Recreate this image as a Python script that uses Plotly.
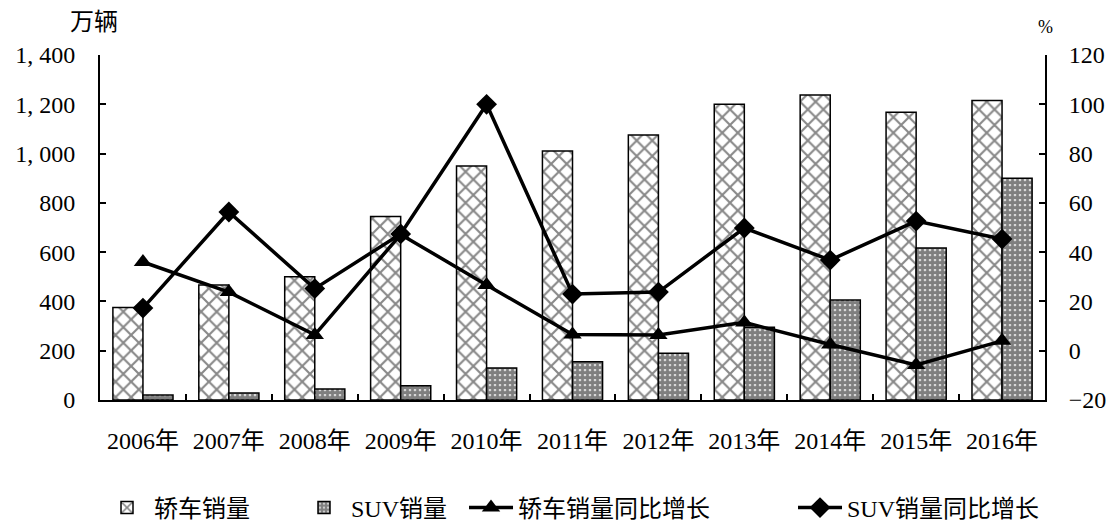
import plotly.graph_objects as go

years = ["2006年", "2007年", "2008年", "2009年", "2010年", "2011年",
         "2012年", "2013年", "2014年", "2015年", "2016年"]
sedan_sales = [375, 467, 500, 745, 950, 1010, 1075, 1200, 1238, 1168, 1215]
suv_sales = [20, 28, 45, 58, 130, 155, 190, 295, 406, 617, 900]
sedan_growth = [36.0, 23.8, 6.4, 47.2, 26.7, 6.6, 6.4, 11.5, 2.5, -5.8, 4.0]
suv_growth = [17.3, 56.3, 25.2, 47.4, 100.0, 23.0, 23.8, 49.8, 36.8, 52.6, 45.3]

left_ticks = [0, 200, 400, 600, 800, 1000, 1200, 1400]
left_ticktext = ["0", "200", "400", "600", "800", "1, 000", "1, 200", "1, 400"]
right_ticks = [-20, 0, 20, 40, 60, 80, 100, 120]
right_ticktext = ["−20", "0", "20", "40", "60", "80", "100", "120"]

NB = "\u00a0"
legend_names = ["轿车销量" + NB * 7, "SUV销量" + NB * 2,
                "轿车销量同比增长" + NB * 13, "SUV销量同比增长"]

FONT = "Liberation Serif, Noto Sans CJK SC, serif"
fig = go.Figure()

fig.add_trace(go.Bar(
    x=years, y=sedan_sales, name=legend_names[0],
    marker=dict(color="white", line=dict(color="black", width=1.5),
                pattern=dict(shape="x", size=11, solidity=0.35,
                             fgcolor="#111", bgcolor="white")),
))
fig.add_trace(go.Bar(
    x=years, y=suv_sales, name=legend_names[1],
    marker=dict(color="white", line=dict(color="black", width=1.5),
                pattern=dict(shape=".", size=5, solidity=0.8,
                             fgcolor="black", bgcolor="white")),
))
fig.add_trace(go.Scatter(
    x=years, y=sedan_growth, name=legend_names[2], yaxis="y2",
    mode="lines+markers",
    line=dict(color="black", width=3.5),
    marker=dict(symbol="triangle-up", size=16, color="black"),
))
fig.add_trace(go.Scatter(
    x=years, y=suv_growth, name=legend_names[3], yaxis="y2",
    mode="lines+markers",
    line=dict(color="black", width=3.5),
    marker=dict(symbol="diamond", size=16, color="black"),
))

fig.update_layout(
    width=1115, height=524,
    margin=dict(l=100, r=70, t=55, b=124, autoexpand=False),
    paper_bgcolor="white", plot_bgcolor="white",
    font=dict(family=FONT, size=24, color="black"),
    barmode="group", bargap=0.30, bargroupgap=0,
    showlegend=True,
    legend=dict(orientation="h", x=0.5, xanchor="center",
                y=-0.313, yanchor="middle",
                font=dict(size=24), itemwidth=44),
    xaxis=dict(type="category", range=[-0.5, 10.5],
               showline=True, linecolor="black", linewidth=2,
               ticks="inside", tickson="boundaries", ticklen=6,
               tickcolor="black", tickwidth=1.5, ticklabelstandoff=18,
               showgrid=False, zeroline=False, mirror=False),
    yaxis=dict(range=[0, 1400], tickvals=left_ticks, ticktext=left_ticktext,
               showline=True, linecolor="black", linewidth=2,
               ticks="inside", ticklen=6, tickcolor="black", tickwidth=1.5,
               ticklabelstandoff=18,
               showgrid=False, zeroline=False),
    yaxis2=dict(range=[-20, 120], tickvals=right_ticks, ticktext=right_ticktext,
                overlaying="y", side="right",
                showline=True, linecolor="black", linewidth=2,
                ticks="inside", ticklen=6, tickcolor="black", tickwidth=1.5,
                ticklabelstandoff=17,
                showgrid=False, zeroline=False),
    annotations=[
        dict(text="万辆", xref="paper", yref="paper", x=0.0, y=1.0,
             xanchor="center", yanchor="bottom", yshift=16, xshift=-6,
             showarrow=False, font=dict(family="Noto Sans CJK SC", size=24)),
        dict(text="%", xref="paper", yref="paper", x=1.0, y=1.0,
             xanchor="center", yanchor="bottom", yshift=16, xshift=0,
             showarrow=False, font=dict(family=FONT, size=18)),
    ],
)

fig.write_html("out.html")
